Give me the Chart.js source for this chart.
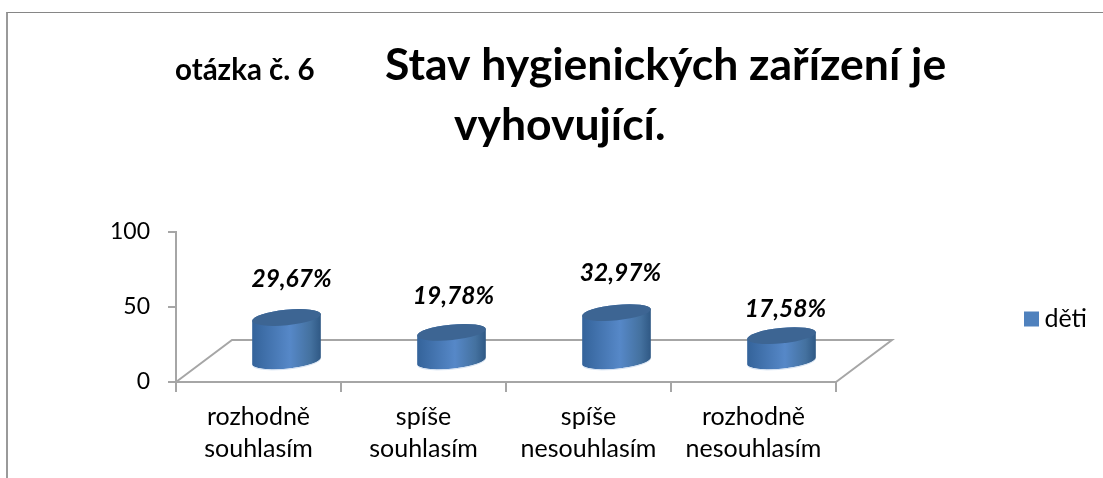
<!DOCTYPE html>
<html>
<head>
<meta charset="utf-8">
<title>otázka č. 6</title>
<script src="https://cdn.jsdelivr.net/npm/chart.js@4/dist/chart.umd.min.js"></script>
<style>
    html, body { margin: 0; padding: 0; background: #fff; overflow: hidden; }
    #wrap { position: relative; width: 1103px; height: 478px; }
    #frame { position: absolute; left: 6px; top: 12px; right: 0; bottom: 0; border-top: 1px solid #868686; border-left: 2px solid #9a9a9a; }
    canvas { position: absolute; left: 0; top: 0; }
</style>
</head>
<body>
<div id="wrap">
    <div id="frame"></div>
    <canvas id="barChart" width="1103" height="478"></canvas>
</div>
<script>
const categories = [['rozhodně', 'souhlasím'], ['spíše', 'souhlasím'], ['spíše', 'nesouhlasím'], ['rozhodně', 'nesouhlasím']];
const seriesName = 'děti';
const values = [29.67, 19.78, 32.97, 17.58];
const valueLabels = ['29,67%', '19,78%', '32,97%', '17,58%'];
const yTicks = [0, 50, 100];
const questionLabel = 'otázka č. 6';
const titleLines = ['Stav hygienických zařízení je', 'vyhovující.'];

const fontName = 'Lato, "Open Sans", sans-serif';
const axisColor = '#a6a6a6';
const depthX = 56, depthY = 42; // floor goes back this far
// labels were dragged by hand in the original, so they get their own nudge
const labelNudge = [[5, -38], [2, -36], [4, -39], [4, -27]];

const canvas = document.getElementById('barChart');
const ctx = canvas.getContext('2d');

// legend box size is worked out the same way Chart.js does it, so the plot ends at x=836
ctx.font = '25px ' + fontName;
const legendWidth = 15 + 12.5 + ctx.measureText(seriesName).width + 20;

const cylinders = {
    id: 'cylinders',
    beforeDatasetDraw() {
        return false; // no flat bars, drawn below instead
    },
    beforeDatasetsDraw(chart) {
        const { ctx, chartArea: a } = chart;
        ctx.save();
        ctx.strokeStyle = axisColor;
        ctx.lineWidth = 2;
        ctx.beginPath();
        ctx.moveTo(a.left, a.bottom);
        ctx.lineTo(a.left + depthX, a.bottom - depthY);
        ctx.lineTo(a.right + depthX, a.bottom - depthY);
        ctx.lineTo(a.right, a.bottom);
        ctx.stroke();
        ctx.restore();
    },
    afterDatasetsDraw(chart) {
        const { ctx } = chart;
        const rot = -0.1;
        chart.getDatasetMeta(0).data.forEach((bar, i) => {
            const cx = bar.x + depthX / 2;
            const rx = bar.width / 2, ry = 7.7;
            const base = bar.base - depthY / 2 + 1;
            const top = bar.y - depthY / 2 + 1;

            const grad = ctx.createLinearGradient(cx - rx, 0, cx + rx, 0);
            grad.addColorStop(0, '#34639a');
            grad.addColorStop(0.55, '#5688c8');
            grad.addColorStop(0.85, '#44719f');
            grad.addColorStop(1, '#2f5884');

            ctx.save();
            ctx.beginPath();
            ctx.ellipse(cx, base, rx, ry, rot, 0, Math.PI);
            ctx.ellipse(cx, top, rx, ry, rot, Math.PI, Math.PI * 2);
            ctx.closePath();
            ctx.fillStyle = grad;
            ctx.fill();

            ctx.beginPath();
            ctx.ellipse(cx, base + 0.5, rx, ry, rot, 0.15, Math.PI - 0.15);
            ctx.strokeStyle = '#d5e2f2';
            ctx.lineWidth = 1;
            ctx.stroke();

            ctx.beginPath();
            ctx.ellipse(cx, top, rx, ry, rot, 0, Math.PI * 2);
            ctx.fillStyle = '#3d6593';
            ctx.fill();

            ctx.fillStyle = '#000';
            ctx.font = 'italic bold 24.5px ' + fontName;
            ctx.textAlign = 'center';
            ctx.textBaseline = 'middle';
            ctx.fillText(valueLabels[i], cx + labelNudge[i][0], top + labelNudge[i][1]);
            ctx.restore();
        });
    },
    afterDraw(chart) {
        // title is not centred in the original, a plain title box can't do that
        const { ctx } = chart;
        ctx.save();
        ctx.fillStyle = '#000';
        ctx.textBaseline = 'alphabetic';
        ctx.textAlign = 'left';
        ctx.font = 'bold 29.5px ' + fontName;
        ctx.fillText(questionLabel, 175, 80);
        ctx.font = 'bold 44.5px ' + fontName;
        ctx.fillText(titleLines[0], 385, 80);
        ctx.fillText(titleLines[1], 454, 140);
        ctx.restore();
    },
    afterLayout(chart) {
        // move the legend over to the right edge, text is right aligned to 1087
        const lg = chart.legend;
        const dy = 319 - (lg.top + lg.bottom) / 2;
        lg.left = 1014;
        lg.right = 1087;
        lg.top += dy;
        lg.bottom += dy;
    }
};

new Chart(ctx, {
    type: 'bar',
    data: {
        labels: categories,
        datasets: [{
            label: seriesName,
            data: values,
            backgroundColor: '#4f81bd',
            borderWidth: 0,
            categoryPercentage: 1,
            barPercentage: 0.418
        }]
    },
    plugins: [cylinders],
    options: {
        responsive: false,
        animation: false,
        layout: { padding: { left: 0, top: 232, right: 1103 - 836 - legendWidth, bottom: 0 } },
        plugins: {
            title: { display: false },
            tooltip: { enabled: false },
            legend: {
                position: 'right',
                labels: {
                    boxWidth: 15,
                    boxHeight: 15,
                    color: '#000',
                    textAlign: 'right',
                    font: { family: fontName, size: 25 }
                }
            }
        },
        scales: {
            x: {
                afterFit(scale) { scale.height = 96; },
                grid: { drawOnChartArea: false, color: axisColor, lineWidth: 2, tickLength: 10 },
                border: { color: axisColor, width: 2 },
                ticks: {
                    color: '#000',
                    padding: 9,
                    maxRotation: 0,
                    autoSkip: false,
                    font: { family: fontName, size: 25, lineHeight: 1.28 }
                }
            },
            y: {
                min: 0,
                max: 100,
                afterFit(scale) { scale.width = 176; },
                afterBuildTicks(scale) { scale.ticks = yTicks.map(v => ({ value: v })); },
                grid: { drawOnChartArea: false, color: axisColor, lineWidth: 2, tickLength: 8 },
                border: { color: axisColor, width: 2 },
                ticks: {
                    color: '#000',
                    padding: 18,
                    font: { family: fontName, size: 23 }
                }
            }
        }
    }
});
</script>
</body>
</html>
